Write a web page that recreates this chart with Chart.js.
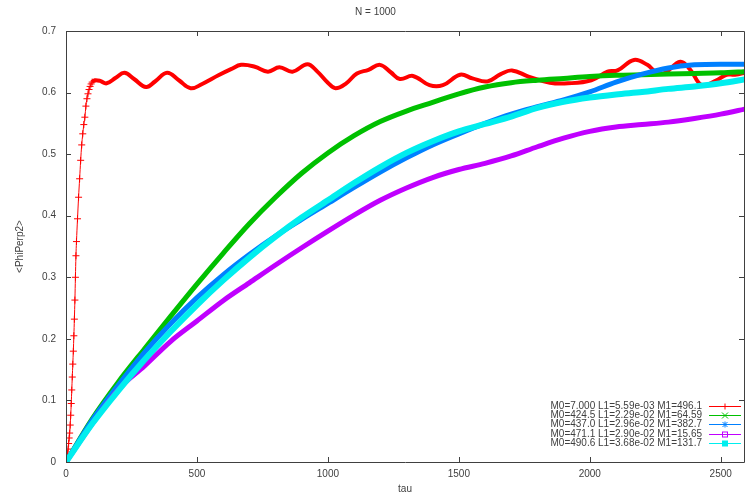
<!DOCTYPE html>
<html>
<head>
<meta charset="utf-8">
<script src="https://cdn.jsdelivr.net/npm/chart.js@4.4.1/dist/chart.umd.min.js"></script>
<style>
  html, body { margin: 0; padding: 0; background: #fff; }
  #c { display: block; }
</style>
</head>
<body>
<canvas id="c" width="749" height="495"></canvas>
<script>
// --- data ---
var labels = [
    'M0=7.000 L1=5.59e-03 M1=496.1',
    'M0=424.5 L1=2.29e-02 M1=64.59',
    'M0=437.0 L1=2.96e-02 M1=382.7',
    'M0=471.1 L1=2.90e-02 M1=15.65',
    'M0=490.6 L1=3.68e-02 M1=131.7'
];

var redTau = [0, 2, 4, 6, 8, 10, 12, 14, 16, 18, 20, 22, 24, 26, 28, 30, 32, 34, 36, 38, 40,
    44, 48, 52, 56, 60, 64, 68, 72, 76, 80, 84, 88, 92, 96, 100,
    110, 130, 155, 190, 223, 260, 306, 340, 386, 431, 476, 520, 582, 630, 669, 721, 771, 815,
    865, 922, 960, 1000, 1029, 1070, 1111, 1155, 1199, 1240, 1275, 1325, 1388, 1439, 1505,
    1552, 1609, 1660, 1703, 1766, 1848, 1917, 2006, 2068, 2106, 2169, 2220, 2251, 2283, 2346,
    2384, 2428, 2484, 2522, 2554, 2600];
var redVal = [0, 0.004, 0.008, 0.014, 0.021, 0.030, 0.039, 0.047, 0.060, 0.076, 0.095, 0.117,
    0.138, 0.159, 0.180, 0.205, 0.232, 0.263, 0.300, 0.335, 0.358,
    0.395, 0.430, 0.460, 0.490, 0.515, 0.533, 0.548, 0.560, 0.578, 0.590, 0.598, 0.605, 0.610,
    0.614, 0.617,
    0.620, 0.619, 0.615, 0.624, 0.632, 0.622, 0.609, 0.618, 0.632, 0.620, 0.607, 0.614, 0.628,
    0.638, 0.645, 0.642, 0.634, 0.641, 0.634, 0.646, 0.634, 0.616, 0.607, 0.615, 0.631, 0.637,
    0.645, 0.633, 0.622, 0.627, 0.612, 0.612, 0.629, 0.623, 0.618, 0.630, 0.636, 0.626, 0.616,
    0.615, 0.620, 0.634, 0.636, 0.653, 0.645, 0.634, 0.631, 0.650, 0.637, 0.612, 0.620, 0.629,
    0.629, 0.633];

var tau = [0, 100, 200, 300, 400, 500, 600, 700, 800, 900, 1000, 1100, 1200, 1300, 1400,
    1500, 1600, 1700, 1800, 1900, 2000, 2100, 2200, 2300, 2400, 2500, 2600];
var greenVal = [0, 0.070, 0.130, 0.184, 0.237, 0.289, 0.339, 0.387, 0.430, 0.469, 0.502, 0.530,
    0.553, 0.570, 0.584, 0.598, 0.609, 0.616, 0.620, 0.623, 0.626, 0.628, 0.629, 0.630, 0.631,
    0.632, 0.634];
var blueVal = [0, 0.068, 0.125, 0.178, 0.225, 0.267, 0.304, 0.337, 0.367, 0.394, 0.420, 0.446,
    0.471, 0.494, 0.515, 0.533, 0.550, 0.565, 0.577, 0.588, 0.601, 0.617, 0.630, 0.640, 0.645,
    0.646, 0.646];
var violetVal = [0, 0.062, 0.118, 0.156, 0.196, 0.229, 0.262, 0.291, 0.320, 0.348, 0.375, 0.401,
    0.425, 0.445, 0.462, 0.475, 0.485, 0.497, 0.512, 0.526, 0.537, 0.544, 0.548, 0.552, 0.558,
    0.565, 0.574];
var cyanVal = [0, 0.062, 0.116, 0.166, 0.212, 0.255, 0.295, 0.332, 0.366, 0.397, 0.425, 0.453,
    0.479, 0.502, 0.521, 0.537, 0.549, 0.561, 0.575, 0.585, 0.592, 0.597, 0.601, 0.606, 0.610,
    0.615, 0.622];

var xTicks = [0, 500, 1000, 1500, 2000, 2500];
var yTicks = [0, 0.1, 0.2, 0.3, 0.4, 0.5, 0.6, 0.7];

var colors = ['#ff0000', '#00c000', '#0080ff', '#c000ff', '#00eeee'];
var markers = ['plus', 'cross', 'star', 'square', 'filled'];

function pairs(xs, ys) {
    return xs.map(function(x, i) { return { x: x, y: ys[i] }; });
}

var axisColor = '#404040';
var textColor = '#404040';
var font = '"Liberation Sans", Arial, sans-serif';

// gnuplot style box with inward ticks
var boxTicks = {
    id: 'boxTicks',
    afterDraw: function(chart) {
        var ctx = chart.ctx, a = chart.chartArea;
        var xs = chart.scales.x, ys = chart.scales.y;
        ctx.save();
        ctx.strokeStyle = axisColor;
        ctx.lineWidth = 1;
        ctx.beginPath();
        ctx.rect(a.left + 0.5, a.top + 0.5, a.right - a.left, a.bottom - a.top);
        xTicks.forEach(function(v) {
            var px = Math.round(xs.getPixelForValue(v)) + 0.5;
            ctx.moveTo(px, a.bottom); ctx.lineTo(px, a.bottom - 5);
            ctx.moveTo(px, a.top); ctx.lineTo(px, a.top + 5);
        });
        yTicks.forEach(function(v) {
            var py = Math.round(ys.getPixelForValue(v)) + 0.5;
            ctx.moveTo(a.left, py); ctx.lineTo(a.left + 5, py);
            ctx.moveTo(a.right, py); ctx.lineTo(a.right - 5, py);
        });
        ctx.stroke();
        ctx.restore();
    }
};

function drawMarker(ctx, kind, x, y, color) {
    ctx.strokeStyle = color;
    ctx.fillStyle = color;
    ctx.lineWidth = 1;
    ctx.beginPath();
    if (kind === 'plus') {
        ctx.moveTo(x - 3, y); ctx.lineTo(x + 3, y);
        ctx.moveTo(x, y - 3); ctx.lineTo(x, y + 3);
        ctx.stroke();
    } else if (kind === 'cross') {
        ctx.moveTo(x - 3, y - 3); ctx.lineTo(x + 3, y + 3);
        ctx.moveTo(x - 3, y + 3); ctx.lineTo(x + 3, y - 3);
        ctx.stroke();
    } else if (kind === 'star') {
        ctx.moveTo(x - 3, y); ctx.lineTo(x + 3, y);
        ctx.moveTo(x, y - 3); ctx.lineTo(x, y + 3);
        ctx.moveTo(x - 2.5, y - 2.5); ctx.lineTo(x + 2.5, y + 2.5);
        ctx.moveTo(x - 2.5, y + 2.5); ctx.lineTo(x + 2.5, y - 2.5);
        ctx.stroke();
    } else if (kind === 'square') {
        ctx.strokeRect(x - 2.5, y - 2.5, 5, 5);
    } else {
        ctx.fillRect(x - 3, y - 3, 6, 6);
    }
}

// key in the lower right, text right-aligned, sample line after it
var keyBox = {
    id: 'keyBox',
    afterDraw: function(chart) {
        var ctx = chart.ctx;
        ctx.save();
        ctx.font = '10px ' + font;
        ctx.textAlign = 'right';
        ctx.textBaseline = 'middle';
        labels.forEach(function(t, i) {
            var y = Math.round(406 + i * 9.2) + 0.5;
            ctx.fillStyle = textColor;
            ctx.fillText(t, 702, y);
            ctx.strokeStyle = colors[i];
            ctx.lineWidth = 1;
            ctx.beginPath();
            ctx.moveTo(709, y);
            ctx.lineTo(741, y);
            ctx.stroke();
            drawMarker(ctx, markers[i], 725, y, colors[i]);
        });
        ctx.restore();
    }
};

function fixedTicks(list) {
    return function(s) { s.ticks = list.map(function(v) { return { value: v }; }); };
}

var thin = function(ctx) { return ctx.p0.parsed.x < 100 ? 1 : 4; };

function smooth(i, vals, w) {
    return {
        label: labels[i],
        data: pairs(tau, vals),
        borderColor: colors[i],
        borderWidth: w,
        pointRadius: 0,
        cubicInterpolationMode: 'monotone',
        order: 5 - i
    };
}

new Chart(document.getElementById('c'), {
    type: 'line',
    data: {
        datasets: [{
            label: labels[0],
            data: pairs(redTau, redVal),
            borderColor: colors[0],
            backgroundColor: colors[0],
            borderWidth: 4,
            segment: { borderWidth: thin },
            pointStyle: 'cross',
            pointRadius: function(ctx) { return ctx.raw && ctx.raw.x <= 100 ? 3.5 : 0; },
            pointBorderWidth: 1,
            tension: 0.4,
            order: 5
        },
            smooth(1, greenVal, 5),
            smooth(2, blueVal, 5),
            smooth(3, violetVal, 5),
            smooth(4, cyanVal, 6)
        ]
    },
    options: {
        responsive: false,
        animation: false,
        devicePixelRatio: 1,
        layout: { padding: { left: 0, right: -2, top: 0, bottom: 0 } },
        plugins: {
            legend: { display: false },
            tooltip: { enabled: false },
            title: {
                display: true,
                text: 'N = 1000',
                color: textColor,
                font: { size: 10, family: font, weight: 'normal' },
                padding: { top: 6, bottom: 13 }
            }
        },
        scales: {
            x: {
                type: 'linear',
                min: 0,
                max: 2589,
                afterFit: function(s) { s.height = 33; },
                afterBuildTicks: fixedTicks(xTicks),
                grid: { display: false, drawTicks: false },
                border: { display: false },
                ticks: {
                    autoSkip: false,
                    maxRotation: 0,
                    padding: 6,
                    color: textColor,
                    font: { size: 10, family: font },
                    callback: function(v) { return String(v); }
                },
                title: {
                    display: true,
                    text: 'tau',
                    color: textColor,
                    font: { size: 10, family: font },
                    padding: { top: 0, bottom: 0 }
                }
            },
            y: {
                min: 0,
                max: 0.7,
                afterFit: function(s) { s.width = 66; },
                afterBuildTicks: fixedTicks(yTicks),
                grid: { display: false, drawTicks: false },
                border: { display: false },
                ticks: {
                    padding: 10,
                    color: textColor,
                    font: { size: 10, family: font },
                    callback: function(v) { return String(v); }
                },
                title: {
                    display: true,
                    text: '<PhiPerp2>',
                    color: textColor,
                    font: { size: 10, family: font },
                    padding: { top: 14, bottom: 0 }
                }
            }
        }
    },
    plugins: [boxTicks, keyBox]
});
</script>
</body>
</html>
